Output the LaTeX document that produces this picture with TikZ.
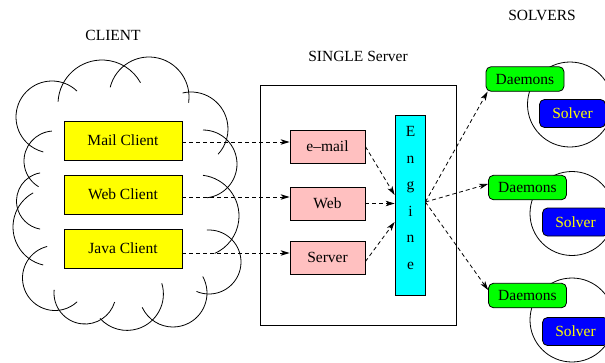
\documentclass[tikz,border=0pt]{standalone}
\usepackage{fontspec}
\setmainfont{Liberation Serif}
\usetikzlibrary{arrows.meta,calc}
\definecolor{pinkc}{RGB}{255,192,192}
\definecolor{cyanc}{RGB}{0,255,255}
\definecolor{greenc}{RGB}{0,255,0}
\definecolor{bluec}{RGB}{0,0,255}
\definecolor{yellowc}{RGB}{255,255,0}
\newcommand\myfs{\fontsize{15.5}{18}\selectfont}
\tikzset{
  base/.style={draw, line width=0.8pt, font=\myfs, inner sep=0pt},
  client/.style={base, fill=yellowc, minimum width=118pt, minimum height=39pt},
  svc/.style={base, fill=pinkc, minimum width=75pt, minimum height=33pt},
  daemon/.style={base, fill=greenc, rounded corners=5pt, minimum width=78pt, minimum height=24.5pt},
  solverbox/.style={base, fill=bluec, text=yellowc, rounded corners=5pt, minimum width=66pt, minimum height=28pt},
  title/.style={font=\myfs, inner sep=0pt},
  cloudarc/.style={line width=0.8pt},
  flow/.style={line width=0.8pt, dash pattern=on 4pt off 3pt, -{Stealth[length=9pt,width=5.5pt,inset=2.5pt]}}
}
\begin{document}
\begin{tikzpicture}[x=1pt,y=-1pt]
\clip (0,0) rectangle (605,362);
\fill[white] (0,0) rectangle (605,362);
% cloud
\foreach \cx/\cy/\r/\s/\e in {52/117/36/-46/-256, 102/104/44/-177/-29, 149/97/40/-166/8,
  191/129/37/-103/43, 203/164/34/-90/83, 198/216/41/-83/66, 209/262/32/-94/113,
  173/293/34/-29/155, 127/294/36.4/-17/138, 85/293/31/186/17, 55/278/32.5/-104/-313,
  52/227/39/-119/-257, 54/161/30/-94/-239, 45/201/28.5/-100/-260}
  \draw[cloudarc] (\cx,\cy) ++(\s:\r) arc[start angle=\s, end angle=\e, radius=\r];
% titles
\node[title] (tclient) at (113,35) {CLIENT};
\node[title] (tserver) at (358,56) {SINGLE Server};
\node[title] (tsolvers) at (542,15) {SOLVERS};
% clients
\node[client] (mc) at (123,140.5) {Mail Client};
\node[client] (wc) at (123,194.5) {Web Client};
\node[client] (jc) at (123,248.5) {Java Client};
% server
\node[base, minimum width=196pt, minimum height=240pt] (srv) at (358,205) {};
\node[svc] (em) at (327.5,146.5) {e--mail};
\node[svc] (wb) at (327.5,203.5) {Web};
\node[svc] (sv) at (327.5,257.5) {Server};
\node[base, fill=cyanc, minimum width=30pt, minimum height=180pt] (eng) at (410,205) {};
\node[font={\fontsize{15.5}{26.5}\selectfont}, align=center, inner sep=0pt] (engtxt) at (410.5,198) {E\\n\\g\\i\\n\\e};
% solvers
\draw[line width=0.8pt] (570,104.5) circle[radius=42.5];
\draw[line width=0.8pt] (572,213.5) circle[radius=42];
\draw[line width=0.8pt] (572,320) circle[radius=42];
\node[daemon] (d1) at (525,79) {Daemons};
\node[daemon] (d2) at (527.5,187.5) {Daemons};
\node[daemon] (d3) at (527.5,295.5) {Daemons};
\node[solverbox] (s1) at (572.5,113.5) {Solver};
\node[solverbox] (s2) at (575.5,222) {Solver};
\node[solverbox] (s3) at (575.5,331.5) {Solver};
% connectors
\coordinate (a1) at ($(mc.east)+(0,1.5)$);
\coordinate (a2) at ($(wc.east)+(0,2.5)$);
\coordinate (a3) at ($(jc.east)+(0,4.5)$);
\draw[flow] (a1) -- (a1 -| em.west);
\draw[flow] (a2) -- (a2 -| wb.west);
\draw[flow] (a3) -- (a3 -| sv.west);
\draw[flow] (em.east) -- ($(eng.west)+(0,-10)$);
\draw[flow] (wb.east) -- (wb.east -| eng.west);
\draw[flow] ($(sv.east)+(0,4)$) -- ($(eng.west)+(0,17)$);
\coordinate (eo) at ($(eng.east)+(0,-3)$);
\draw[flow] (eo) -- ($(d1.south west)+(2,0)$);
\draw[flow] (eo) -- ($(d2.west)+(0,-3.5)$);
\draw[flow] (eo) -- ($(d3.west)+(0,-5.5)$);
\end{tikzpicture}
\end{document}
